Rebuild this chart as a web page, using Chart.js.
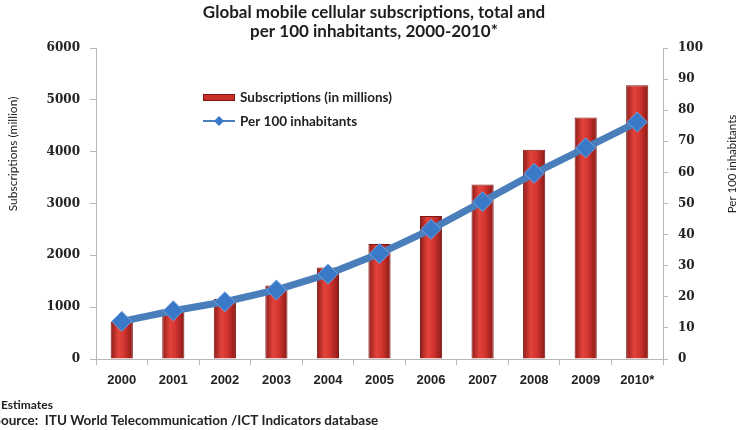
<!DOCTYPE html>
<html>
<head>
<meta charset="utf-8">
<script src="https://cdn.jsdelivr.net/npm/chart.js@4"></script>
<style>
  html, body { margin: 0; padding: 0; background: #fff; }
  #wrap { position: relative; width: 738px; height: 430px; overflow: hidden; }
  canvas { display: block; }
</style>
</head>
<body>
<div id="wrap"><canvas id="mobileChart" width="738" height="430"></canvas></div>
<script>
const years = ["2000", "2001", "2002", "2003", "2004", "2005", "2006", "2007", "2008", "2009", "2010*"];
const subscriptions = [719, 961, 1157, 1417, 1763, 2219, 2757, 3368, 4035, 4660, 5282];
const per100 = [12.1, 15.5, 18.4, 22.2, 27.3, 33.9, 41.7, 50.6, 59.7, 67.9, 76.2];

const titleLines = ["Global mobile cellular subscriptions, total and", "per 100 inhabitants, 2000-2010*"];
const leftTitle = "Subscriptions (million)";
const rightTitle = "Per 100 inhabitants";
const noteLines = ["* Estimates", "Source:  ITU World Telecommunication /ICT Indicators database"];

const barRed = '#c9302a';
const barEdge = '#7d1714';
const lineBlue = '#4a7ebb';
const barPct = 0.43;

// horizontal shading of each bar, built from the x scale once it is laid out
const barFill = (c) => {
    const chart = c.chart;
    const xs = chart.scales.x;
    if (!xs || c.dataIndex === undefined || !chart.chartArea) return barRed;
    const cx = xs.getPixelForValue(c.dataIndex);
    const half = (xs.width / years.length) * barPct / 2;
    const g = chart.ctx.createLinearGradient(cx - half, 0, cx + half, 0);
    g.addColorStop(0, '#8e1c18');
    g.addColorStop(0.35, '#e2433b');
    g.addColorStop(0.6, '#d43530');
    g.addColorStop(1, '#8a1a16');
    return g;
};

// title, legend, axis titles and notes drawn straight on the canvas
const decorations = {
    id: 'decorations',
    afterDraw(chart) {
        const ctx = chart.ctx;
        ctx.save();
        ctx.fillStyle = '#1e1e1e';
        ctx.textAlign = 'center';
        ctx.textBaseline = 'middle';
        ctx.font = 'bold 17px Lato';
        ctx.fillText(titleLines[0], 374, 13);
        ctx.fillText(titleLines[1], 374, 32);

        // legend
        ctx.textAlign = 'left';
        ctx.font = 'bold 13.5px Lato';
        ctx.fillStyle = barRed;
        ctx.strokeStyle = barEdge;
        ctx.lineWidth = 1;
        ctx.fillRect(203, 94, 32, 7);
        ctx.strokeRect(203.5, 94.5, 31, 6);
        ctx.fillStyle = '#222';
        ctx.fillText("Subscriptions (in millions)", 240, 98);

        ctx.strokeStyle = lineBlue;
        ctx.lineWidth = 2;
        ctx.beginPath();
        ctx.moveTo(203, 121);
        ctx.lineTo(235, 121);
        ctx.stroke();
        ctx.fillStyle = '#3a78c8';
        ctx.beginPath();
        ctx.moveTo(219, 116);
        ctx.lineTo(224, 121);
        ctx.lineTo(219, 126);
        ctx.lineTo(214, 121);
        ctx.closePath();
        ctx.fill();
        ctx.fillStyle = '#222';
        ctx.fillText("Per 100 inhabitants", 240, 122);

        // axis titles
        ctx.font = '12px Lato';
        ctx.textAlign = 'center';
        ctx.save();
        ctx.translate(13, 154);
        ctx.rotate(-Math.PI / 2);
        ctx.fillText(leftTitle, 0, 0);
        ctx.restore();
        ctx.font = '11.5px Lato';
        ctx.save();
        ctx.translate(732, 164);
        ctx.rotate(-Math.PI / 2);
        ctx.fillText(rightTitle, 0, 0);
        ctx.restore();

        // notes, clipped on the left like the source picture
        ctx.textAlign = 'left';
        ctx.font = 'bold 12px Lato';
        ctx.fillStyle = '#222';
        ctx.fillText(noteLines[0], 1 - ctx.measureText("* ").width, 405);
        ctx.font = 'bold 13.5px Lato';
        ctx.fillText(noteLines[1], 1 - ctx.measureText("S").width, 421);
        ctx.restore();
    }
};

const tickFontY = { family: 'DejaVu Serif', size: 12, weight: 'bold' };

new Chart(document.getElementById('mobileChart'), {
    type: 'bar',
    data: {
        labels: years,
        datasets: [
            {
                type: 'line',
                label: 'Per 100 inhabitants',
                data: per100,
                yAxisID: 'y2',
                order: 0,
                borderColor: lineBlue,
                borderWidth: 7,
                tension: 0,
                pointStyle: 'rectRot',
                pointRadius: 10,
                pointBackgroundColor: '#3a78c8',
                pointBorderColor: '#6ea3e2',
                pointBorderWidth: 1
            },
            {
                label: 'Subscriptions (in millions)',
                data: subscriptions,
                yAxisID: 'y',
                order: 1,
                backgroundColor: barFill,
                borderColor: barEdge,
                borderWidth: 1,
                categoryPercentage: 1,
                barPercentage: barPct
            }
        ]
    },
    options: {
        responsive: false,
        animation: false,
        layout: { padding: { top: 48, bottom: 41, left: 0, right: 0 } },
        plugins: {
            legend: { display: false },
            title: { display: false },
            tooltip: { enabled: false }
        },
        scales: {
            x: {
                offset: true,
                grid: { offset: true, drawOnChartArea: false, drawTicks: true, tickLength: 6, color: '#b8b8b8' },
                border: { color: '#b8b8b8' },
                ticks: { color: '#222', font: { family: 'Liberation Sans', size: 13, weight: 'bold' }, padding: 8 },
                afterFit: (s) => { s.height = 30; }
            },
            y: {
                position: 'left',
                min: 0,
                max: 6000,
                grid: { drawOnChartArea: false, tickLength: 6, color: '#b8b8b8' },
                border: { color: '#b8b8b8' },
                ticks: { stepSize: 1000, color: '#222', font: tickFontY, padding: 10, callback: (v) => String(v) },
                afterFit: (s) => { s.width = 96; }
            },
            y2: {
                position: 'right',
                min: 0,
                max: 100,
                grid: { drawOnChartArea: false, tickLength: 5, color: '#b8b8b8' },
                border: { color: '#b8b8b8' },
                ticks: { stepSize: 10, color: '#222', font: tickFontY, padding: 10, callback: (v) => String(v) },
                afterFit: (s) => { s.width = 75; }
            }
        }
    },
    plugins: [decorations]
});
</script>
</body>
</html>
